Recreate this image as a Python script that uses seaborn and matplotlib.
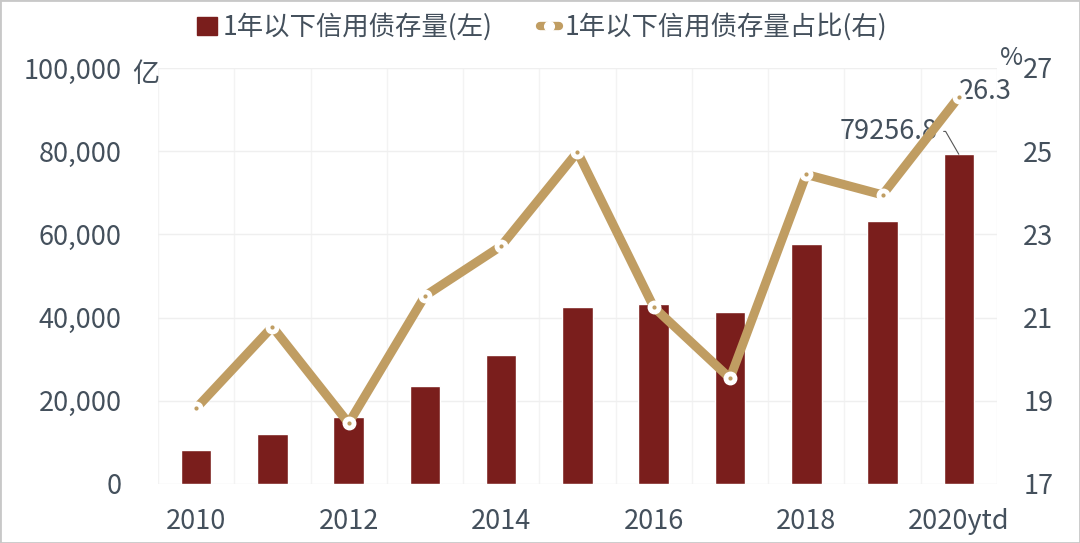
import numpy as np
import seaborn as sns
import matplotlib.pyplot as plt
from matplotlib.lines import Line2D
from matplotlib.patches import Patch, Rectangle
import matplotlib.ticker as mticker

years = ["2010", "2011", "2012", "2013", "2014", "2015", "2016", "2017", "2018", "2019", "2020ytd"]
stock = [8200, 12000, 16000, 23500, 30900, 42500, 43200, 41300, 57700, 63100, 79256.8]
ratio = [18.82, 20.78, 18.46, 21.52, 22.72, 24.98, 21.25, 19.54, 24.44, 23.95, 26.3]
xtick_labels = ["2010", "", "2012", "", "2014", "", "2016", "", "2018", "", "2020ytd"]

bar_color = "#7A1E1C"
line_color = "#C09D62"
text_color = "#44505C"

sns.set_style("white")
plt.rcParams["font.family"] = ["Noto Sans CJK SC", "DejaVu Sans"]

fig = plt.figure(figsize=(10.8, 5.43), dpi=100)
ax = fig.add_axes([0.1463, 0.1087, 0.7768, 0.7661])

sns.barplot(x=years, y=stock, color=bar_color, width=0.4, saturation=1, ax=ax, zorder=2)
ax.set_ylim(0, 100000)
ax.set_xlim(-0.5, len(years) - 0.5)
ax.yaxis.set_major_locator(mticker.MultipleLocator(20000))
ax.yaxis.set_major_formatter(mticker.FuncFormatter(lambda v, p: f"{int(v):,}"))
ax.set_xticks(range(len(years)))
ax.set_xticklabels(xtick_labels)
ax.set_xticks(np.arange(-0.5, len(years), 1), minor=True)
ax.grid(axis="y", color="#EFEFEF", linewidth=1, zorder=0)
ax.grid(axis="x", which="minor", color="#F3F3F3", linewidth=1, zorder=0)
ax.tick_params(axis="y", length=0, pad=26, labelsize=19.5, labelcolor=text_color)
ax.tick_params(axis="x", which="both", length=0, pad=17, labelsize=19.5, labelcolor=text_color)
for s in ax.spines.values():
    s.set_visible(False)
ax.set_axisbelow(True)

ax2 = ax.twinx()
xs = np.arange(len(years))
sns.lineplot(x=xs, y=ratio, color=line_color, linewidth=6.5, ax=ax2, zorder=3)
ax2.plot(xs, ratio, linestyle="none", marker="o", markersize=9,
         markerfacecolor="white", markeredgecolor="white", zorder=4)
ax2.plot(xs, ratio, linestyle="none", marker="o", markersize=2,
         markerfacecolor=line_color, markeredgecolor=line_color, zorder=5)
ax2.set_ylim(17, 27)
ax2.set_yticks([17, 19, 21, 23, 25, 27])
ax2.tick_params(axis="y", length=0, pad=19, labelsize=19.5, labelcolor=text_color)
for s in ax2.spines.values():
    s.set_visible(False)

# annotations
ax.annotate(f"{stock[-1]:.1f}", xy=(len(years) - 1, stock[-1]),
            xytext=(len(years) - 1.92, stock[-1] + 5500),
            fontsize=19.5, color=text_color, ha="center", va="center",
            arrowprops=dict(arrowstyle="-", color="#555555", lw=0.8, shrinkA=2, shrinkB=0,
                            connectionstyle="angle,angleA=0,angleB=-60,rad=0"))
ax2.annotate(f"{ratio[-1]}", xy=(len(years) - 1, ratio[-1]), xytext=(0, 4),
             textcoords="offset points", fontsize=19.5, color=text_color, ha="left", va="center")

fig.text(0.122, 0.862, "亿", fontsize=19.5, color=text_color, ha="left", va="center")
fig.text(0.926, 0.893, "%", fontsize=18, color=text_color, ha="left", va="center")

handles = [
    Patch(facecolor=bar_color, edgecolor=bar_color),
    Line2D([0], [0], color=line_color, linewidth=6, marker="o", markersize=7,
           markerfacecolor="white", markeredgecolor="white"),
]
labels = ["1年以下信用债存量(左)", "1年以下信用债存量占比(右)"]
fig.legend(handles, labels, loc="center", bbox_to_anchor=(0.502, 0.95), ncol=2,
           frameon=False, fontsize=19, labelcolor=text_color, handlelength=0.75,
           handletextpad=0.2, columnspacing=1.8)

fig.patches.append(Rectangle((0, 0), 1, 1, transform=fig.transFigure, fill=False,
                             edgecolor="#C8C8C8", linewidth=2))

fig.savefig("out.png", dpi=100)
